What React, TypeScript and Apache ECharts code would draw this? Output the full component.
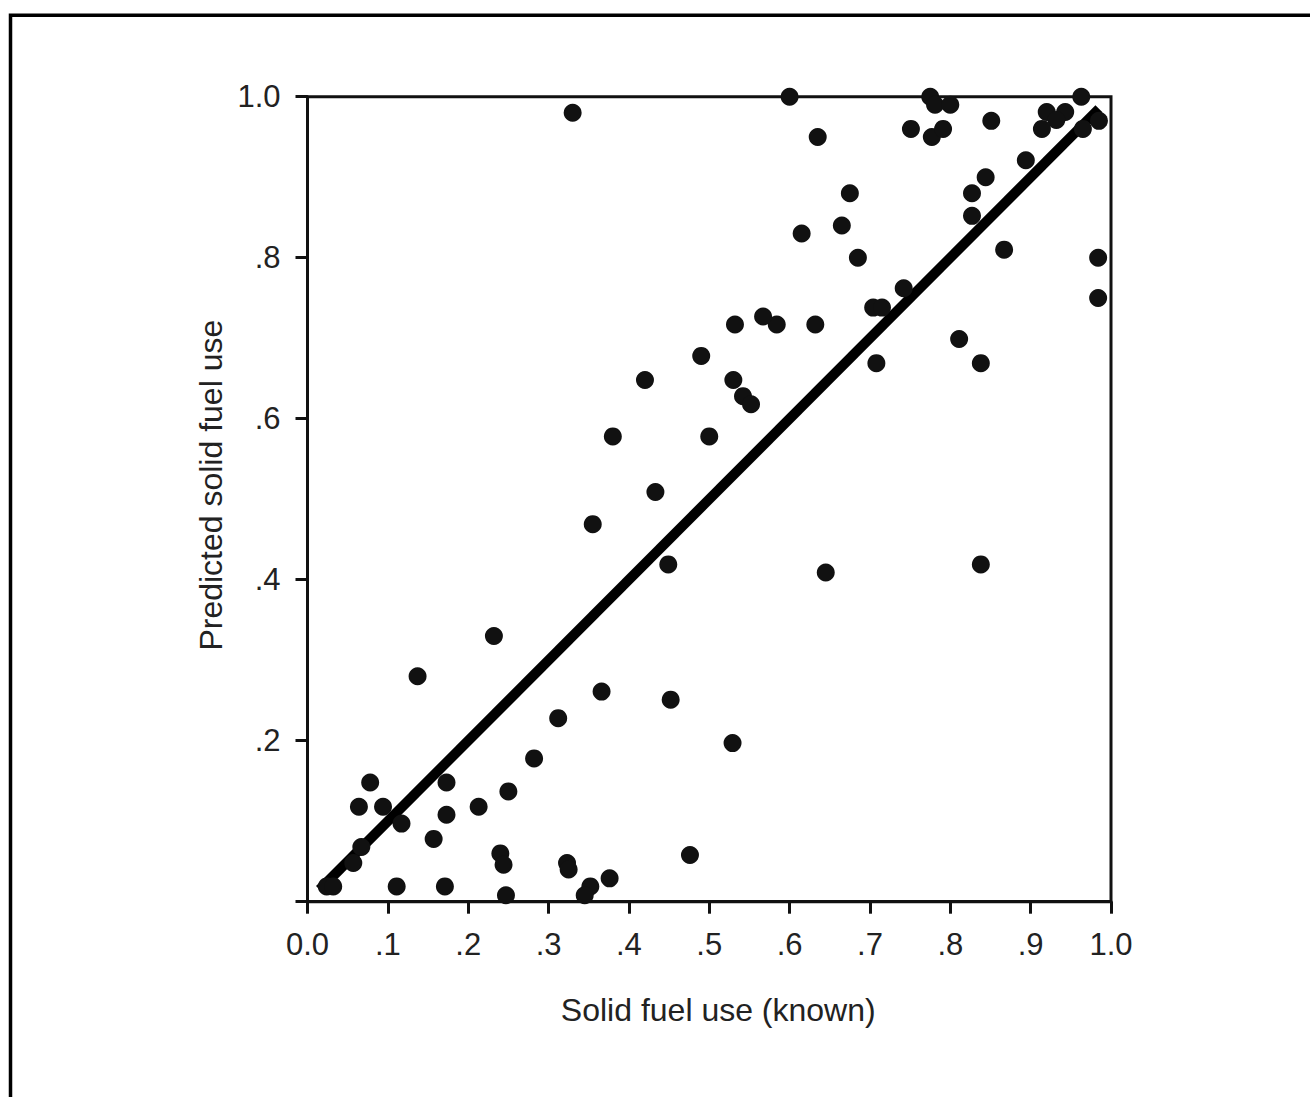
import React, { useEffect, useRef } from "react";
import * as echarts from "echarts";

// Known solid fuel use (x) and predicted solid fuel use (y)
const knownUse: number[] = [
  0.33, 0.6, 0.635, 0.615, 0.675, 0.665, 0.685, 0.632, 0.584, 0.567, 0.532, 0.49,
  0.42, 0.53, 0.542, 0.552, 0.38, 0.5, 0.433, 0.355, 0.449, 0.645, 0.838,
  0.775, 0.781, 0.8, 0.751, 0.777, 0.791, 0.851, 0.963, 0.92, 0.943, 0.932,
  0.914, 0.965, 0.985, 0.894, 0.844, 0.827, 0.827, 0.867, 0.984, 0.984, 0.742,
  0.704, 0.715, 0.811, 0.708, 0.838,
  0.232, 0.137, 0.312, 0.282, 0.25, 0.213, 0.173, 0.173, 0.157, 0.078, 0.064,
  0.094, 0.117, 0.067, 0.057, 0.024, 0.032, 0.111, 0.171, 0.24, 0.244, 0.247,
  0.323, 0.325, 0.352, 0.345, 0.376, 0.476, 0.529, 0.452, 0.366,
];
const predictedUse: number[] = [
  0.98, 1.0, 0.95, 0.83, 0.88, 0.84, 0.8, 0.717, 0.717, 0.727, 0.717, 0.678,
  0.648, 0.648, 0.628, 0.618, 0.578, 0.578, 0.509, 0.469, 0.419, 0.409, 0.419,
  1.0, 0.99, 0.99, 0.96, 0.95, 0.96, 0.97, 1.0, 0.981, 0.981, 0.971,
  0.96, 0.96, 0.97, 0.921, 0.9, 0.88, 0.852, 0.81, 0.8, 0.75, 0.762,
  0.738, 0.738, 0.699, 0.669, 0.669,
  0.33, 0.28, 0.228, 0.178, 0.137, 0.118, 0.148, 0.108, 0.078, 0.148, 0.118,
  0.118, 0.097, 0.068, 0.048, 0.019, 0.019, 0.019, 0.019, 0.06, 0.046, 0.008,
  0.048, 0.04, 0.019, 0.008, 0.029, 0.058, 0.197, 0.251, 0.261,
];
// Fitted line endpoints
const fitX: number[] = [0.015, 0.985];
const fitY: number[] = [0.015, 0.985];

const xTitle = "Solid fuel use (known)";
const yTitle = "Predicted solid fuel use";

const FONT = "'Liberation Sans', Arial, sans-serif";

function fmtTick(v: number, showZero: boolean): string {
  const t = Math.round(v * 10);
  if (t === 0) return showZero ? "0.0" : "";
  if (t === 10) return "1.0";
  return "." + t;
}

export default function App() {
  const ref = useRef<HTMLDivElement>(null);
  useEffect(() => {
    if (!ref.current) return;
    const chart = echarts.init(ref.current, null, { renderer: "svg" });
    const points = knownUse.map((x, i) => [x, predictedUse[i]]);
    const fit = fitX.map((x, i) => [x, fitY[i]]);
    chart.setOption({
      animation: false,
      backgroundColor: "#ffffff",
      grid: {
        left: 307.5,
        top: 96.7,
        width: 803.5,
        height: 805,
        show: true,
        borderColor: "#111",
        borderWidth: 3,
        backgroundColor: "transparent",
      },
      xAxis: {
        type: "value",
        min: 0,
        max: 1,
        interval: 0.1,
        splitLine: { show: false },
        axisLine: { show: true, onZero: false, lineStyle: { color: "#111", width: 3 } },
        axisTick: { show: true, inside: false, length: 12, lineStyle: { color: "#111", width: 3 } },
        axisLabel: {
          margin: 27,
          color: "#222",
          fontFamily: FONT,
          fontSize: 31,
          formatter: (v: number) => fmtTick(v, true),
        },
        name: xTitle,
        nameLocation: "middle",
        nameGap: 92,
        nameTextStyle: { color: "#222", fontFamily: FONT, fontSize: 32, padding: [0, 0, 0, 18] },
      },
      yAxis: {
        type: "value",
        min: 0,
        max: 1,
        interval: 0.2,
        splitLine: { show: false },
        axisLine: { show: true, onZero: false, lineStyle: { color: "#111", width: 3 } },
        axisTick: { show: true, inside: false, length: 12, lineStyle: { color: "#111", width: 3 } },
        axisLabel: {
          margin: 27,
          color: "#222",
          fontFamily: FONT,
          fontSize: 31,
          formatter: (v: number) => fmtTick(v, false),
        },
        name: yTitle,
        nameLocation: "middle",
        nameGap: 79,
        nameTextStyle: { color: "#222", fontFamily: FONT, fontSize: 32, padding: [0, 0, 0, 28] },
      },
      graphic: [
        {
          type: "rect",
          shape: { x: 10.5, y: 15.3, width: 1320, height: 1110 },
          style: { fill: "none", stroke: "#000", lineWidth: 3.5 },
          silent: true,
        },
      ],
      series: [
        {
          type: "line",
          data: fit,
          symbol: "none",
          lineStyle: { color: "#000", width: 10 },
          z: 2,
        },
        {
          type: "scatter",
          data: points,
          symbol: "circle",
          symbolSize: 18,
          itemStyle: { color: "#111", opacity: 1 },
          z: 3,
        },
      ],
    });
    return () => chart.dispose();
  }, []);
  return (
    <div
      ref={ref}
      style={{ position: "fixed", left: 0, top: 0, width: 1310, height: 1097 }}
    />
  );
}
